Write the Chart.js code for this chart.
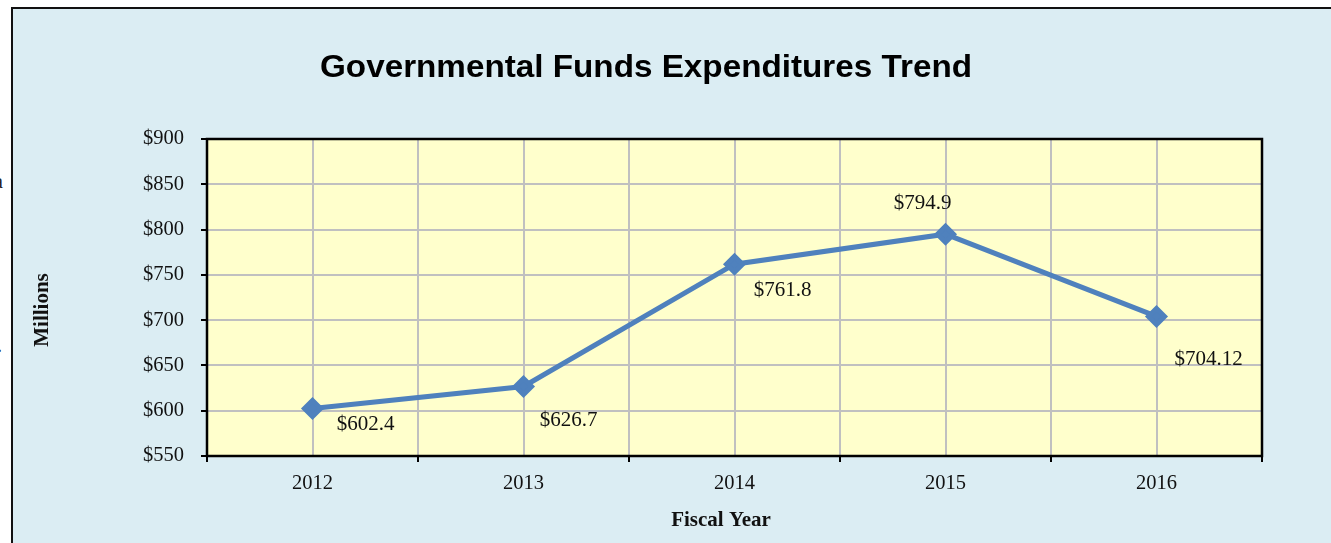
<!DOCTYPE html>
<html>
<head>
<meta charset="utf-8">
<script src="https://cdn.jsdelivr.net/npm/chart.js@4"></script>
<style>
  html, body { margin: 0; padding: 0; background: #fff; overflow: hidden; }
  #wrap { position: relative; width: 1331px; height: 543px; }
  #box {
    position: absolute; left: 11px; top: 7px; right: -4px; bottom: -4px;
    background: #DBEDF3; border-left: 2px solid #111; border-top: 2px solid #111;
  }
  .frag { position: absolute; font: 20px "Liberation Serif", serif; color: #222; }
  canvas { position: absolute; left: 0; top: 0; }
</style>
</head>
<body>
<div id="wrap">
  <span class="frag" style="left:-6px; top:170px;">a</span>
  <span class="frag" style="left:-3px; top:334px;">.</span>
  <div id="box"></div>
  <canvas id="chart" width="1331" height="543"></canvas>
</div>
<script>
// chart data
const years = [2012, 2013, 2014, 2015, 2016];
const expenditures = [602.4, 626.7, 761.8, 794.9, 704.12];
const valueLabels = ["$602.4", "$626.7", "$761.8", "$794.9", "$704.12"];
const yTicks = [550, 600, 650, 700, 750, 800, 850, 900];

// where each value label sits relative to its point (dx, dy)
const labelOffsets = [[53, 16], [45, 34], [48, 26], [-23, -31], [52, 43]];

const serif = '"Liberation Serif", "Times New Roman", serif';
const titleText = "Governmental Funds Expenditures Trend";

const plotBox = {
  id: "plotBox",
  beforeDraw(chart) {
    const { ctx, chartArea: a } = chart;
    ctx.save();
    ctx.fillStyle = "#FFFFCC";
    ctx.fillRect(a.left, a.top, a.right - a.left, a.bottom - a.top);
    ctx.restore();
  },
  afterDraw(chart) {
    const { ctx, chartArea: a } = chart;
    ctx.save();
    ctx.strokeStyle = "#000";
    ctx.lineWidth = 2.5;
    ctx.strokeRect(a.left, a.top, a.right - a.left, a.bottom - a.top);

    // title, a bit stretched like the original
    ctx.fillStyle = "#000";
    ctx.font = 'bold 31px "Liberation Sans", Arial, sans-serif';
    ctx.textAlign = "center";
    ctx.textBaseline = "middle";
    const w = ctx.measureText(titleText).width;
    ctx.save();
    ctx.translate(646, 68);
    ctx.scale(652 / w, 1);
    ctx.fillText(titleText, 0, 0);
    ctx.restore();

    // axis titles (the original sits them off-centre)
    ctx.fillStyle = "#111";
    ctx.font = "bold 21px " + serif;
    ctx.fillText("Fiscal Year", 721, 521);
    ctx.save();
    ctx.translate(43, 310);
    ctx.rotate(-Math.PI / 2);
    ctx.fillText("Millions", 0, 0);
    ctx.restore();

    // value labels
    const meta = chart.getDatasetMeta(0);
    ctx.font = "21px " + serif;
    meta.data.forEach((pt, i) => {
      const [dx, dy] = labelOffsets[i];
      ctx.fillText(valueLabels[i], pt.x + dx, pt.y + dy);
    });
    ctx.restore();
  }
};

new Chart(document.getElementById("chart"), {
  type: "line",
  data: {
    datasets: [{
      data: years.map((y, i) => ({ x: y, y: expenditures[i] })),
      borderColor: "#4F81BD",
      backgroundColor: "#4F81BD",
      borderWidth: 5,
      pointStyle: "rectRot",
      pointRadius: 8,
      pointHoverRadius: 8,
      tension: 0
    }]
  },
  options: {
    responsive: false,
    animation: false,
    events: [],
    layout: { padding: { top: 139, right: 69, left: 0, bottom: 0 } },
    plugins: { legend: { display: false }, tooltip: { enabled: false } },
    scales: {
      x: {
        type: "linear",
        min: years[0] - 0.5,
        max: years[years.length - 1] + 0.5,
        afterFit: s => { s.height = 87; },
        afterBuildTicks: s => {
          const t = [];
          for (let v = years[0] - 0.5; v <= years[years.length - 1] + 0.5; v += 0.5) t.push({ value: v });
          s.ticks = t;
        },
        border: { display: false },
        grid: {
          color: "#C0C0C0",
          lineWidth: 2,
          tickLength: 6,
          tickColor: c => Number.isInteger(c.tick.value) ? "rgba(0,0,0,0)" : "#000",
          drawTicks: true
        },
        ticks: {
          autoSkip: false,
          maxRotation: 0,
          padding: 9,
          color: "#111",
          font: { family: serif, size: 20.5 },
          callback: v => Number.isInteger(v) ? String(v) : ""
        }
      },
      y: {
        min: yTicks[0],
        max: yTicks[yTicks.length - 1],
        afterFit: s => { s.width = 207; },
        afterBuildTicks: s => { s.ticks = yTicks.map(v => ({ value: v })); },
        border: { display: false },
        grid: {
          color: "#C0C0C0",
          lineWidth: 2,
          tickLength: 6,
          tickColor: "#000"
        },
        ticks: {
          padding: 17,
          color: "#111",
          font: { family: serif, size: 20.5 },
          callback: v => "$" + v
        }
      }
    }
  },
  plugins: [plotBox]
});
</script>
</body>
</html>
